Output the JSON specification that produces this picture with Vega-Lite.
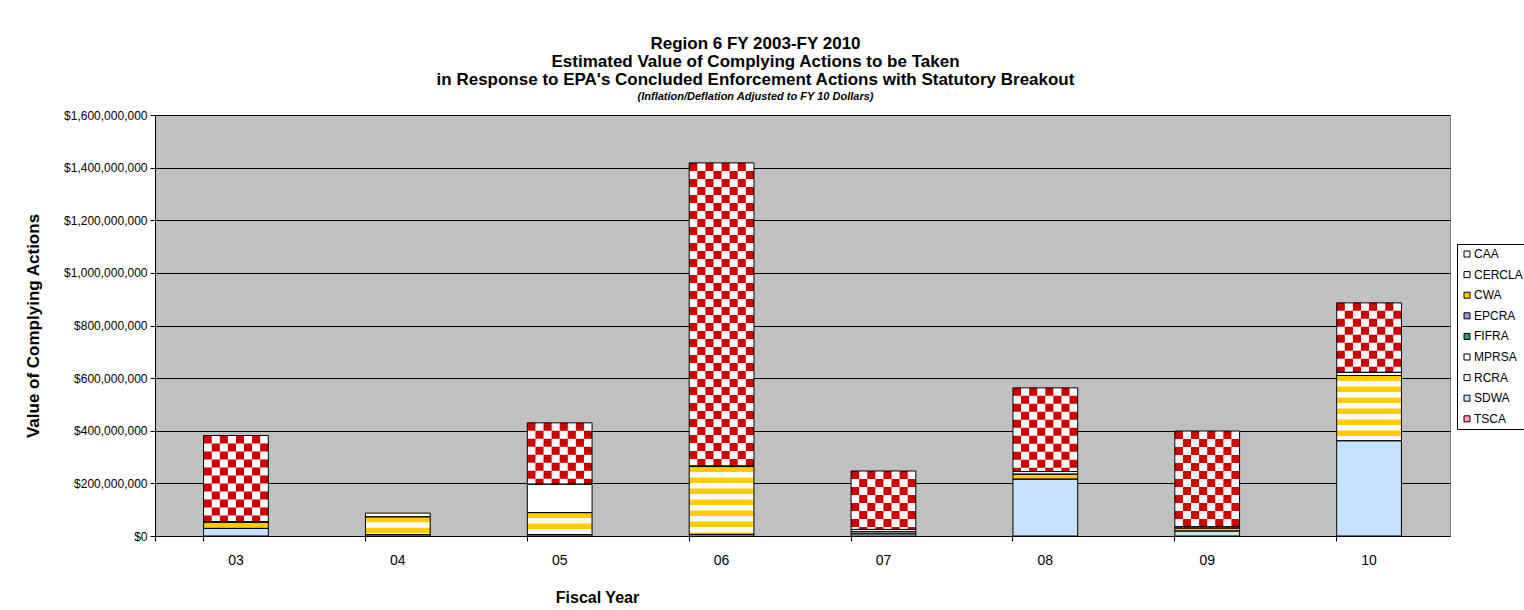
{
  "$schema": "https://vega.github.io/schema/vega-lite/v6.json",
  "width": 1295,
  "height": 421,
  "autosize": {"type": "none"},
  "padding": {"left": 155, "top": 115, "right": 74, "bottom": 74},
  "background": "white",
  "config": {
    "view": {"fill": "#C0C0C0", "stroke": "#808080", "strokeWidth": 1},
    "font": "Liberation Sans"
  },
  "title": {
    "text": ["Region 6 FY 2003-FY 2010", "Estimated Value of Complying Actions to be Taken", "in Response to EPA's Concluded Enforcement Actions with Statutory Breakout"],
    "subtitle": "(Inflation/Deflation Adjusted to FY 10 Dollars)",
    "font": "Liberation Sans", "fontSize": 17, "fontWeight": "bold", "color": "black", "lineHeight": 18,
    "subtitleFont": "Liberation Sans", "subtitleFontSize": 11, "subtitleFontWeight": "bold", "subtitleFontStyle": "italic", "subtitleColor": "black",
    "anchor": "middle", "dx": -47, "offset": 6, "subtitlePadding": 2
  },
  "data": {"values": [
    {"year": "03", "statute": "SDWA", "value": 29000000},
    {"year": "03", "statute": "CWA", "value": 24000000},
    {"year": "03", "statute": "CERCLA", "value": 1000000},
    {"year": "03", "statute": "CAA", "value": 328000000},
    {"year": "04", "statute": "RCRA", "value": 5000000},
    {"year": "04", "statute": "CWA", "value": 68000000},
    {"year": "04", "statute": "CERCLA", "value": 14000000},
    {"year": "05", "statute": "RCRA", "value": 5000000},
    {"year": "05", "statute": "CWA", "value": 84000000},
    {"year": "05", "statute": "CERCLA", "value": 108000000},
    {"year": "05", "statute": "CAA", "value": 233000000},
    {"year": "06", "statute": "RCRA", "value": 6000000},
    {"year": "06", "statute": "CWA", "value": 258000000},
    {"year": "06", "statute": "CERCLA", "value": 2000000},
    {"year": "06", "statute": "CAA", "value": 1152000000},
    {"year": "07", "statute": "RCRA", "value": 8000000},
    {"year": "07", "statute": "MPRSA", "value": 8000000},
    {"year": "07", "statute": "CERCLA", "value": 9000000},
    {"year": "07", "statute": "CAA", "value": 222000000},
    {"year": "08", "statute": "SDWA", "value": 216000000},
    {"year": "08", "statute": "CWA", "value": 19000000},
    {"year": "08", "statute": "CERCLA", "value": 10000000},
    {"year": "08", "statute": "CAA", "value": 318000000},
    {"year": "09", "statute": "SDWA", "value": 19000000},
    {"year": "09", "statute": "CWA", "value": 11000000},
    {"year": "09", "statute": "CERCLA", "value": 5000000},
    {"year": "09", "statute": "CAA", "value": 364000000},
    {"year": "10", "statute": "SDWA", "value": 362000000},
    {"year": "10", "statute": "CWA", "value": 248000000},
    {"year": "10", "statute": "CERCLA", "value": 12000000},
    {"year": "10", "statute": "CAA", "value": 264000000}
  ]},
  "transform": [
    {"stack": "value", "groupby": ["year"], "sort": [{"field": "statute", "order": "descending"}], "as": ["v0", "v1"]}
  ],
  "encoding": {
    "x": {
      "field": "year", "type": "nominal",
      "scale": {"paddingInner": 0.6, "paddingOuter": 0.3},
      "axis": {
        "title": "Fiscal Year", "labelAngle": 0, "bandPosition": 0, "tickExtra": true,
        "grid": false, "domainColor": "black", "tickColor": "black", "tickSize": 5,
        "labelFont": "Liberation Sans", "labelFontSize": 14, "labelColor": "black", "labelPadding": 12,
        "titleFont": "Liberation Sans", "titleFontSize": 16, "titleFontWeight": "bold", "titleColor": "black",
        "titleX": 442, "titleY": 61, "titleBaseline": "middle", "titleAlign": "center"
      }
    },
    "y": {
      "field": "v1", "type": "quantitative",
      "scale": {"domain": [0, 1600000000], "nice": false},
      "axis": {
        "title": "Value of Complying Actions", "format": "$,.0f",
        "values": [0, 200000000, 400000000, 600000000, 800000000, 1000000000, 1200000000, 1400000000, 1600000000],
        "grid": true, "gridColor": "black", "gridWidth": 1,
        "domainColor": "black", "tickColor": "black", "tickSize": 5,
        "labelFont": "Liberation Sans", "labelFontSize": 12, "labelColor": "black", "labelPadding": 3,
        "titleFont": "Liberation Sans", "titleFontSize": 17, "titleFontWeight": "bold", "titleColor": "black", "titlePadding": 21
      }
    },
    "y2": {"field": "v0"}
  },
  "layer": [
    {
      "mark": {"type": "bar", "strokeWidth": 0},
      "encoding": {
        "color": {
          "field": "statute", "type": "nominal",
          "scale": {
            "domain": ["CAA", "CERCLA", "CWA", "EPCRA", "FIFRA", "MPRSA", "RCRA", "SDWA", "TSCA"],
            "range": ["#FFFFFF", "#FFFFFF", "#FFCC00", "#9999FF", "#339966", "#FFFFFF", "#FFFFFF", "#C4E1FF", "#FF99CC"]
          },
          "legend": {
            "title": null, "orient": "none", "legendX": 1302, "legendY": 129,
            "strokeColor": "black", "fillColor": "white", "padding": 4,
            "symbolType": "square", "symbolSize": 36, "symbolStrokeColor": "black", "symbolStrokeWidth": 1, "symbolOpacity": 1,
            "labelFont": "Liberation Sans", "labelFontSize": 12, "labelColor": "black", "labelOffset": 1, "rowPadding": 8.6
          }
        }
      }
    },
    {
      "transform": [{"filter": "datum.statute === 'CWA'"}],
      "mark": {"type": "rule", "stroke": "white", "strokeWidth": 64, "strokeDash": [5.5, 5.5], "strokeDashOffset": 5.5},
      "encoding": {}
    },
    {"transform": [{"filter": "datum.statute === 'CAA'"}], "mark": {"type": "rule", "stroke": "#CC0000", "strokeWidth": 8.1, "strokeDash": [8, 8], "strokeDashOffset": 0, "xOffset": -28.3}, "encoding": {}},
    {"transform": [{"filter": "datum.statute === 'CAA'"}], "mark": {"type": "rule", "stroke": "#CC0000", "strokeWidth": 8.1, "strokeDash": [8, 8], "strokeDashOffset": 8, "xOffset": -20.2}, "encoding": {}},
    {"transform": [{"filter": "datum.statute === 'CAA'"}], "mark": {"type": "rule", "stroke": "#CC0000", "strokeWidth": 8.1, "strokeDash": [8, 8], "strokeDashOffset": 0, "xOffset": -12.1}, "encoding": {}},
    {"transform": [{"filter": "datum.statute === 'CAA'"}], "mark": {"type": "rule", "stroke": "#CC0000", "strokeWidth": 8.1, "strokeDash": [8, 8], "strokeDashOffset": 8, "xOffset": -4.05}, "encoding": {}},
    {"transform": [{"filter": "datum.statute === 'CAA'"}], "mark": {"type": "rule", "stroke": "#CC0000", "strokeWidth": 8.1, "strokeDash": [8, 8], "strokeDashOffset": 0, "xOffset": 4.05}, "encoding": {}},
    {"transform": [{"filter": "datum.statute === 'CAA'"}], "mark": {"type": "rule", "stroke": "#CC0000", "strokeWidth": 8.1, "strokeDash": [8, 8], "strokeDashOffset": 8, "xOffset": 12.1}, "encoding": {}},
    {"transform": [{"filter": "datum.statute === 'CAA'"}], "mark": {"type": "rule", "stroke": "#CC0000", "strokeWidth": 8.1, "strokeDash": [8, 8], "strokeDashOffset": 0, "xOffset": 20.2}, "encoding": {}},
    {"transform": [{"filter": "datum.statute === 'CAA'"}], "mark": {"type": "rule", "stroke": "#CC0000", "strokeWidth": 8.1, "strokeDash": [8, 8], "strokeDashOffset": 8, "xOffset": 28.3}, "encoding": {}},
    {
      "mark": {"type": "bar", "fill": "transparent", "stroke": "black", "strokeWidth": 1}
    }
  ]
}
